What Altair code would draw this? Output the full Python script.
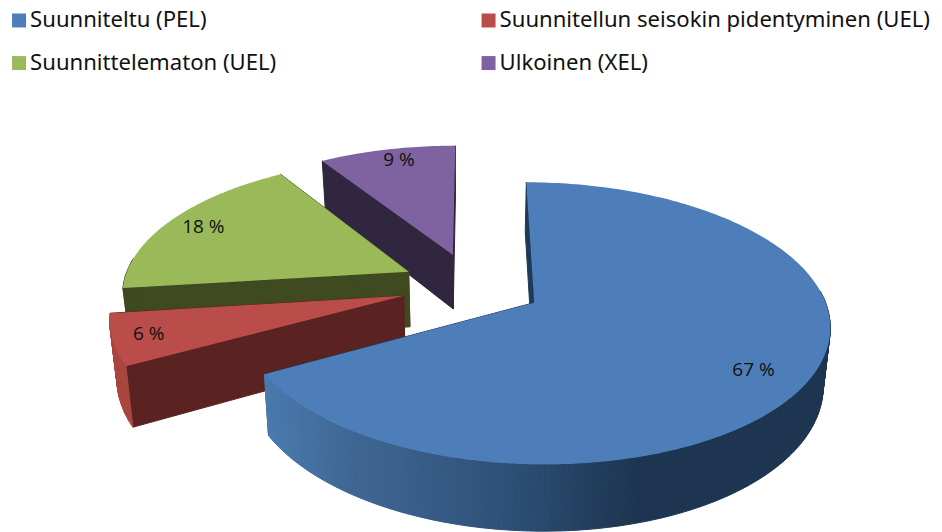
import math
import altair as alt

names = ["Suunniteltu (PEL)", "Suunnitellun seisokin pidentyminen (UEL)", "Suunnittelematon (UEL)", "Ulkoinen (XEL)"]
values = [67, 6, 18, 9]
top_colors = ["#4d7eba", "#ba4d4a", "#9aba59", "#7f62a0"]
wall_colors = ["#1d3a58", "#5a2321", "#3f4a20", "#30263f"]
rim_colors = ["#1d3550", "#a8463f", "#3f4a20", "#5c4778"]
blue_stops = [(265, (74, 122, 174)), (350, (64, 103, 148)), (500, (47, 82, 122)), (640, (29, 53, 80)), (830, (29, 53, 80))]
label_reach = [0.825, 0.88, 0.86, 0.88]
label_along = [0.512, 0.5, 0.5, 0.54]
draw_order = [3, 2, 1, 0]

# View of the tilted pie, in pixels of the plot area
CX, CY, RX, RY, P, H, SHRINK, EXPLODE = 464, 277.5, 286, 133, 0.144, 56, 0.98, 0.2485


def project(u, v, lower=False):
    w = 1 / (1 - P * v)
    x = CX + RX * u * w
    y = CY + RY * v * w
    if lower:
        x = CX + (x - CX) * SHRINK
        y += H * w
    return [x, y]


def poly(points, shade, series=None):
    ring = [list(p) for p in points] + [list(points[0])]
    return {"type": "Feature", "geometry": {"type": "Polygon", "coordinates": [ring]},
            "properties": {"shade": shade, "series": series}}


def blue_shade(x):
    x += 8
    for (x0, c0), (x1, c1) in zip(blue_stops, blue_stops[1:]):
        if x <= x1:
            t = max(0, (x - x0) / (x1 - x0))
            return "#%02x%02x%02x" % tuple(round(a + (b - a) * t) for a, b in zip(c0, c1))
    return "#1d3550"


PROJ = dict(type="identity", scale=1, translate=[0, 0])
total = sum(values)
start = 0.0
spans = []
for val in values:
    end = start + val / total * 2 * math.pi
    spans.append((start, end))
    start = end

parts = {}
label_lon, label_lat, label_txt = [], [], []
for i in range(len(values)):
    a0, a1 = spans[i]
    mid = (a0 + a1) / 2
    au, av = EXPLODE * math.sin(mid), -EXPLODE * math.cos(mid)
    n = max(4, int((a1 - a0) / math.radians(1.0)))
    angles = [a0 + (a1 - a0) * k / n for k in range(n + 1)]
    rim = [(au + math.sin(a), av - math.cos(a)) for a in angles]
    la = a0 + (a1 - a0) * label_along[i]
    lx, ly = project(au + label_reach[i] * math.sin(la), av - label_reach[i] * math.cos(la))
    label_lon.append(lx)
    label_lat.append(ly)
    label_txt.append(f"{values[i]} %")
    front = []
    for k, ((u0, v0), (u1, v1)) in enumerate(zip(rim, rim[1:])):
        if -math.cos(angles[k]) <= -0.1:
            continue
        p = project(u0, v0)
        shade = blue_shade(p[0]) if i == 0 else rim_colors[i]
        front.append(poly([project(u0, v0), project(u1, v1), project(u1, v1, True), project(u0, v0, True)], shade))
    walls = []
    for u, v in (rim[0], rim[-1]):
        walls.append(poly([project(au, av), project(u, v), project(u, v, True), project(au, av, True)], wall_colors[i]))
    top = poly([project(au, av)] + [project(u, v) for u, v in rim], None, names[i])
    parts[i] = (walls + front, top)

layers = []
for i in draw_order:
    sides, top = parts[i]
    layers.append(
        alt.Chart(alt.Data(values=sides)).mark_geoshape(strokeWidth=1).encode(
            fill=alt.Fill("properties.shade:N", scale=None),
            stroke=alt.Stroke("properties.shade:N", scale=None),
        ).project(**PROJ)
    )
    layers.append(
        alt.Chart(alt.Data(values=[top])).mark_geoshape(strokeWidth=0).encode(
            color=alt.Color(
                "properties.series:N",
                scale=alt.Scale(domain=names, range=top_colors),
                legend=alt.Legend(
                    title=None, orient="none", legendX=0, legendY=1, columns=2, direction="horizontal",
                    symbolType="square", symbolSize=196, symbolStrokeWidth=0, labelFont="Noto Sans", labelFontSize=22.1,
                    labelColor="#111111", labelLimit=600, columnPadding=200.5, rowPadding=20, labelOffset=0,
                ),
            )
        ).project(**PROJ)
    )

labels = alt.Chart(alt.Data(values=[
    {"lon": a, "lat": b, "txt": c} for a, b, c in zip(label_lon, label_lat, label_txt)
])).mark_text(font="Open Sans", fontSize=19, color="#111111").encode(
    longitude="lon:Q", latitude="lat:Q", text="txt:N"
).project(**PROJ)
layers.append(labels)

chart = alt.layer(*layers).properties(
    width=926, height=524, padding=0, autosize=alt.AutoSizeParams(type="none"),
).configure_view(stroke=None)
chart.save("out.html", embed_options={"renderer": "svg", "actions": False})
